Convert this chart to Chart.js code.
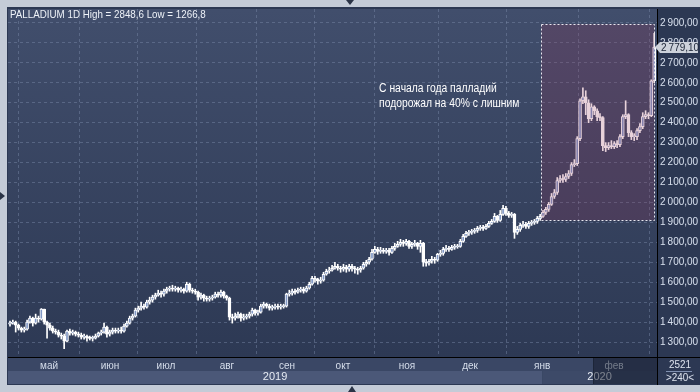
<!DOCTYPE html>
<html>
<head>
<meta charset="utf-8">
<script src="https://cdn.jsdelivr.net/npm/chart.js@4.4.0/dist/chart.umd.min.js"></script>
<style>
  html, body { margin: 0; padding: 0; background: #c4cbd7; }
</style>
</head>
<body>
<canvas id="palladium" width="700" height="392"></canvas>
<script>
// daily candles, Apr 2019 - Feb 2020
var startOpen = 1390;
var closes = [
  1395,1400,1385,1370,1360,1365,1400,1420,1395,1420,
  1415,1465,1400,1385,1370,1355,1350,1335,1330,1305,
  1355,1345,1350,1340,1335,1325,1330,1320,1318,1320,
  1330,1345,1350,1375,1340,1350,1360,1355,1360,1355,
  1380,1395,1420,1430,1460,1470,1480,1475,1500,1510,
  1525,1535,1545,1540,1555,1565,1570,1565,1570,1560,
  1565,1555,1590,1560,1555,1550,1525,1535,1520,1515,
  1520,1525,1540,1535,1550,1530,1520,1425,1420,1430,
  1440,1420,1425,1430,1440,1460,1445,1450,1480,1490,
  1480,1470,1475,1480,1475,1478,1480,1540,1545,1555,
  1550,1560,1565,1555,1570,1590,1620,1615,1605,1610,
  1640,1655,1660,1670,1680,1670,1665,1675,1665,1680,
  1670,1665,1660,1670,1690,1700,1715,1750,1765,1755,
  1760,1755,1760,1750,1770,1780,1790,1800,1795,1805,
  1780,1790,1795,1780,1795,1700,1695,1705,1715,1710,
  1740,1745,1765,1770,1765,1775,1778,1780,1805,1830,
  1845,1850,1855,1860,1870,1875,1870,1880,1895,1905,
  1930,1910,1940,1970,1945,1935,1940,1850,1865,1885,
  1890,1880,1895,1900,1905,1920,1930,1950,1965,1990,
  2030,2050,2110,2120,2115,2130,2145,2190,2195,2320,
  2510,2530,2500,2420,2480,2460,2430,2425,2285,2275,
  2285,2280,2295,2290,2330,2430,2440,2350,2330,2330,
  2360,2380,2430,2440,2435,2610,2779.1
];
var highs = [
  1405,1410,1405,1390,1375,1375,1410,1430,1425,1440,
  1430,1468,1465,1405,1395,1380,1365,1360,1345,1340,
  1360,1365,1360,1355,1350,1345,1340,1335,1330,1330,
  1340,1350,1360,1395,1380,1360,1370,1370,1370,1375,
  1390,1405,1430,1440,1470,1480,1500,1490,1510,1525,
  1535,1545,1560,1555,1565,1575,1580,1585,1580,1575,
  1575,1570,1600,1595,1570,1565,1555,1545,1540,1530,
  1530,1535,1550,1550,1560,1555,1535,1525,1440,1445,
  1450,1445,1440,1440,1450,1470,1465,1460,1490,1500,
  1495,1490,1485,1490,1490,1490,1490,1545,1560,1565,
  1565,1570,1575,1575,1580,1600,1630,1630,1620,1625,
  1650,1665,1675,1685,1700,1690,1680,1690,1685,1690,
  1690,1680,1675,1680,1700,1710,1725,1765,1780,1775,
  1775,1770,1770,1770,1780,1795,1805,1815,1810,1815,
  1810,1800,1810,1800,1810,1800,1715,1715,1730,1725,
  1745,1760,1775,1785,1780,1785,1790,1790,1815,1840,
  1855,1860,1865,1870,1880,1885,1885,1890,1905,1915,
  1945,1935,1960,1985,1980,1955,1950,1945,1880,1895,
  1905,1900,1905,1910,1915,1930,1940,1960,1975,2000,
  2045,2065,2125,2135,2140,2145,2160,2200,2215,2330,
  2520,2575,2560,2515,2495,2485,2470,2445,2430,2300,
  2300,2310,2305,2310,2340,2440,2510,2445,2360,2345,
  2370,2395,2450,2460,2450,2615,2848.6
];
var lows = [
  1380,1390,1350,1360,1350,1350,1360,1395,1380,1390,
  1400,1410,1390,1320,1360,1345,1340,1325,1315,1266.8,
  1300,1335,1335,1330,1325,1315,1315,1305,1310,1305,
  1315,1325,1335,1345,1325,1330,1340,1345,1345,1345,
  1350,1375,1390,1410,1425,1450,1460,1465,1470,1490,
  1500,1515,1530,1525,1530,1545,1555,1555,1555,1550,
  1550,1545,1550,1550,1545,1540,1510,1515,1505,1505,
  1505,1510,1520,1525,1525,1520,1510,1410,1395,1410,
  1420,1405,1410,1415,1420,1430,1435,1435,1445,1470,
  1470,1460,1460,1465,1465,1465,1470,1475,1530,1535,
  1540,1545,1550,1545,1550,1565,1585,1600,1590,1595,
  1605,1635,1645,1655,1665,1660,1650,1655,1650,1655,
  1655,1645,1640,1650,1665,1680,1690,1710,1745,1740,
  1745,1745,1745,1735,1745,1760,1775,1780,1780,1785,
  1770,1770,1780,1765,1750,1680,1680,1685,1695,1695,
  1705,1730,1735,1755,1755,1760,1765,1770,1775,1800,
  1825,1835,1840,1845,1850,1860,1860,1865,1875,1890,
  1900,1900,1905,1935,1935,1925,1925,1820,1840,1855,
  1875,1870,1870,1885,1890,1895,1910,1925,1940,1955,
  1985,2020,2040,2100,2100,2105,2120,2135,2180,2185,
  2310,2495,2440,2400,2410,2440,2410,2410,2260,2255,
  2265,2270,2270,2275,2280,2320,2420,2330,2315,2310,
  2315,2350,2370,2420,2420,2430,2600
];

// month boundaries in candle-index units
var monthTicks = [13.7, 35.1, 54.7, 76.1, 97.2, 116.8, 139.3, 161.4, 186.7, 211.9];
var monthLabels = ['май', 'июн', 'июл', 'авг', 'сен', 'окт', 'ноя', 'дек', 'янв', 'фев'];
var yearLabels = ['2019', '2020'];
var yearStart = 186.7;
var shadeFrom = 204.6;
var priceTicks = [1300,1400,1500,1600,1700,1800,1900,2000,2100,2200,2300,2400,2500,2600,2700,2800,2900];

// highlighted area (candle index / price)
var boxX = [186.3, 226.1];
var boxY = [1910, 2895];
var noteLines = ['С начала года палладий', 'подорожал на 40% с лишним'];
var notePos = [129.5, 2570];
var title = 'PALLADIUM 1D High = 2848,6 Low = 1266,8';

var sans = '"Liberation Sans", Arial, sans-serif';

function fmtPrice(v) {
	var n = Number(v).toFixed(2).split('.');
	var int = n[0];
	if (int.length > 3) int = int.slice(0, int.length - 3) + '\u2009' + int.slice(-3);
	return int + ',' + n[1];
}

// text squeezed horizontally, the original uses a narrow face
function narrowText(c, txt, x, y, sx) {
	c.save();
	c.translate(x, y);
	c.scale(sx, 1);
	c.fillText(txt, 0, 0);
	c.restore();
}

var opens = closes.map(function(c, i) { return i === 0 ? startOpen : closes[i - 1]; });
var bodies = [], wicks = [], bodyFill = [];
for (var i in closes) {
	i = +i;
	bodies.push({ x: i, y: [opens[i], closes[i]] });
	wicks.push({ x: i, y: [lows[i], highs[i]] });
	bodyFill.push(closes[i] >= opens[i] ? '#8198c6' : '#ffffff');
}

var frame = {
	id: 'frame',
	beforeDraw: function(chart) {
		var c = chart.ctx, a = chart.chartArea, xs = chart.scales.x;
		c.save();
		c.fillStyle = '#c4cbd7';
		c.fillRect(0, 0, 700, 392);
		c.fillStyle = '#2c3853';
		c.fillRect(7, 7, 693, 378);
		var g = c.createLinearGradient(0, a.top, 0, a.bottom);
		g.addColorStop(0, '#414e6c');
		g.addColorStop(1, '#2d3954');
		c.fillStyle = g;
		c.fillRect(a.left, a.top, a.right - a.left, a.bottom - a.top);
		// axis rows
		c.fillStyle = '#3a4765';
		c.fillRect(a.left, a.bottom + 1, a.right - a.left, 13);
		var xj = xs.getPixelForValue(yearStart);
		c.fillStyle = '#4b5878';
		c.fillRect(a.left, a.bottom + 14, xj - a.left, 13);
		c.fillStyle = '#3d4a68';
		c.fillRect(xj, a.bottom + 14, a.right - xj, 13);
		c.restore();
	},
	afterDatasetsDraw: function(chart) {
		var c = chart.ctx, xs = chart.scales.x, ys = chart.scales.y;
		var x0 = xs.getPixelForValue(boxX[0]), x1 = xs.getPixelForValue(boxX[1]);
		var y0 = ys.getPixelForValue(boxY[1]), y1 = ys.getPixelForValue(boxY[0]);
		c.save();
		c.fillStyle = 'rgba(150,50,85,0.22)';
		c.fillRect(x0, y0, x1 - x0, y1 - y0);
		c.strokeStyle = '#e8e8f0';
		c.lineWidth = 1;
		c.setLineDash([2, 2]);
		c.strokeRect(Math.round(x0) + 0.5, Math.round(y0) + 0.5, Math.round(x1 - x0), Math.round(y1 - y0));
		c.setLineDash([]);
		c.fillStyle = '#ffffff';
		c.font = '12px ' + sans;
		c.textBaseline = 'middle';
		var nx = xs.getPixelForValue(notePos[0]), ny = ys.getPixelForValue(notePos[1]);
		noteLines.forEach(function(t, k) { narrowText(c, t, nx, ny + k * 15, 0.86); });
		c.restore();
	},
	afterDraw: function(chart) {
		var c = chart.ctx, a = chart.chartArea, xs = chart.scales.x, ys = chart.scales.y;
		c.save();
		var xf = xs.getPixelForValue(shadeFrom);
		var xj = xs.getPixelForValue(yearStart);
		c.fillStyle = '#e6ebf3';
		c.font = '11px ' + sans;
		c.textAlign = 'center';
		c.textBaseline = 'middle';
		c.fillText(yearLabels[0], (a.left + xj) / 2, a.bottom + 20);
		c.fillText(yearLabels[1], (xj + a.right) / 2, a.bottom + 20);
		// feb shade
		c.fillStyle = 'rgba(15,22,38,0.5)';
		c.fillRect(xf, a.bottom + 1, a.right - xf, 26);
		c.fillStyle = '#1c2538';
		c.fillRect(Math.round(xf), a.bottom + 1, 1, 26);
		// black separators
		c.fillStyle = '#000000';
		c.fillRect(a.left, Math.round(a.bottom), 700 - a.left, 1);
		c.fillRect(Math.round(a.right), a.top, 1, 385 - a.top);
		// corner box
		c.fillStyle = '#dde3ee';
		c.font = '11px ' + sans;
		narrowText(c, '2521', 680, a.bottom + 8, 0.9);
		narrowText(c, '>240<', 680, a.bottom + 21, 0.9);
		c.fillStyle = '#8090b0';
		c.fillRect(666, a.bottom + 14, 26, 1);
		// last price tag
		var last = closes[closes.length - 1];
		var ty = Math.round(ys.getPixelForValue(last));
		c.fillStyle = '#cdd2db';
		c.beginPath();
		c.moveTo(a.right - 2, ty);
		c.lineTo(a.right + 3, ty - 5);
		c.lineTo(698, ty - 5);
		c.lineTo(698, ty + 6);
		c.lineTo(a.right + 3, ty + 6);
		c.closePath();
		c.fill();
		c.fillStyle = '#1b2436';
		c.textAlign = 'left';
		c.font = '10px ' + sans;
		c.fillText(fmtPrice(last), a.right + 4, ty + 1);
		// title
		c.fillStyle = '#eef2f8';
		c.font = '11px ' + sans;
		narrowText(c, title, 10, 15, 0.89);
		// little arrows on the frame
		c.fillStyle = '#2a3346';
		c.beginPath(); c.moveTo(346, 0); c.lineTo(354, 0); c.lineTo(350, 5); c.fill();
		c.beginPath(); c.moveTo(348, 392); c.lineTo(356, 392); c.lineTo(352, 386); c.fill();
		c.beginPath(); c.moveTo(0, 192); c.lineTo(0, 200); c.lineTo(5, 196); c.fill();
		c.restore();
	}
};

var ctx = document.getElementById('palladium');
var chart = new Chart(ctx, {
	type: 'bar',
	data: {
		datasets: [
			{
				label: 'body',
				data: bodies,
				backgroundColor: bodyFill,
				borderColor: '#ffffff',
				borderWidth: 1,
				borderSkipped: false,
				barThickness: 3,
				minBarLength: 1,
				grouped: false,
				order: 1
			},
			{
				label: 'wick',
				data: wicks,
				backgroundColor: '#ffffff',
				borderWidth: 0,
				barThickness: 1,
				grouped: false,
				order: 2
			}
		]
	},
	options: {
		responsive: false,
		animation: false,
		layout: { padding: { left: 8, top: 8, right: 0, bottom: 0 } },
		plugins: { legend: { display: false }, tooltip: { enabled: false } },
		scales: {
			x: {
				type: 'linear',
				min: -0.7,
				max: 227,
				offset: false,
				afterBuildTicks: function(s) { s.ticks = monthTicks.map(function(v) { return { value: v }; }); },
				afterFit: function(s) { s.height = 35; },
				grid: { color: 'rgba(125,140,170,0.45)', drawTicks: false },
				border: { display: false, dash: [3, 3] },
				ticks: {
					autoSkip: false,
					maxRotation: 0,
					padding: 3,
					color: '#d6deeb',
					font: { size: 10, family: sans },
					callback: function(v, idx) { return monthLabels[idx]; }
				}
			},
			y: {
				position: 'right',
				min: 1225,
				max: 2970,
				afterBuildTicks: function(s) { s.ticks = priceTicks.map(function(v) { return { value: v }; }); },
				afterFit: function(s) { s.width = 43; },
				grid: { color: 'rgba(125,140,170,0.45)', drawTicks: false },
				border: { display: false, dash: [3, 3] },
				ticks: {
					padding: 3,
					color: '#d8e0ee',
					font: { size: 10, family: sans },
					callback: function(v) { return fmtPrice(v); }
				}
			}
		}
	},
	plugins: [frame]
});
</script>
</body>
</html>
